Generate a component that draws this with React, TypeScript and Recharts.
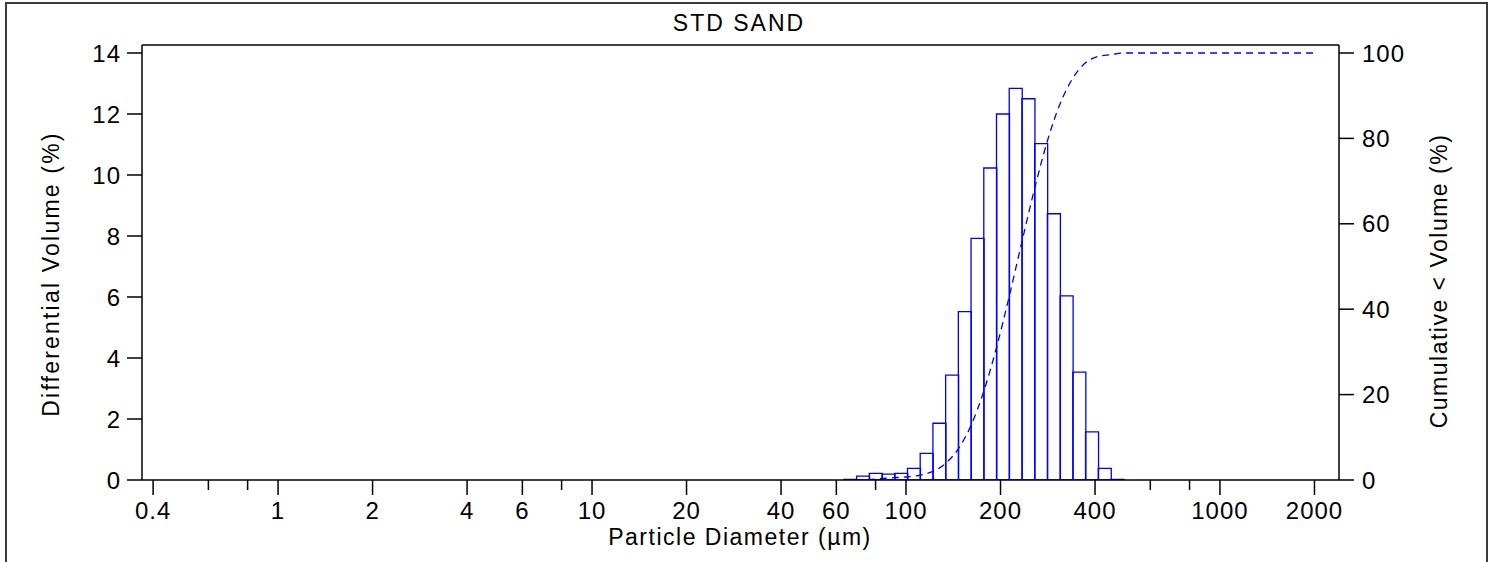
import React from 'react';
import { ComposedChart, Bar, Line, XAxis, YAxis, ReferenceLine, Customized } from 'recharts';

// Differential volume histogram: geometric bin centres (µm) and values (%)
const binCenters = [66.44, 72.93, 80.06, 87.88, 96.48, 105.91, 116.27, 127.64, 140.11, 153.81, 168.84, 185.36, 203.47, 223.37, 245.21, 269.19, 295.5, 324.39, 356.11, 390.92, 429.14, 471.11];
const diffVolume = [0.02, 0.13, 0.22, 0.19, 0.22, 0.38, 0.87, 1.86, 3.44, 5.52, 7.92, 10.23, 12.0, 12.84, 12.5, 11.03, 8.73, 6.04, 3.54, 1.58, 0.38, 0.02];

// Cumulative < volume curve: bin upper edges (µm) and values (%)
const cumDiameters = [63.41, 69.61, 76.41, 83.88, 92.08, 101.08, 110.97, 121.82, 133.73, 146.8, 161.15, 176.91, 194.2, 213.19, 234.04, 256.92, 282.04, 309.61, 339.88, 373.11, 409.59, 449.64, 493.59, 2000];
const cumVolume = [0, 0, 0.13, 0.35, 0.54, 0.76, 1.14, 2.0, 3.9, 7.3, 12.8, 20.8, 31.0, 43.0, 55.8, 68.3, 79.4, 88.1, 94.1, 97.7, 99.2, 99.6, 100, 100];

// Axis ticks
const xTicks = [0.4, 0.6, 0.8, 1, 2, 4, 6, 8, 10, 20, 40, 60, 80, 100, 200, 400, 600, 800, 1000, 2000];
const xTickLabels = ['0.4', '', '', '1', '2', '4', '6', '', '10', '20', '40', '60', '', '100', '200', '400', '', '', '1000', '2000'];
const leftTicks = [0, 2, 4, 6, 8, 10, 12, 14];
const rightTicks = [0, 20, 40, 60, 80, 100];

const X_MIN = 0.3687;
const X_MAX = 2394;
const Y_L_MAX = 14.262;
const Y_R_MAX = 101.87;

const binData = binCenters.map((d, i) => ({ d, v: diffVolume[i] }));
const cumData = cumDiameters.map((d, i) => ({ d, c: cumVolume[i] }));

const FONT = '"Liberation Sans", Arial, Helvetica, sans-serif';
const BLUE = '#0000ff';

const renderXTick = (props: any) => {
  const { x, y, payload } = props;
  const idx = xTicks.findIndex((t) => Math.abs(t - payload.value) < 1e-9);
  const label = idx >= 0 ? xTickLabels[idx] : '';
  const major = label !== '';
  return (
    <g>
      <line x1={x} x2={x} y1={y} y2={y + (major ? 15 : 10)} stroke="#000" strokeWidth={1.5} />
      {major && (
        <text x={x} y={y + 39} textAnchor="middle" fontSize={24} fontFamily={FONT} letterSpacing={1} fill="#000">
          {label}
        </text>
      )}
    </g>
  );
};

const Texts = () => (
  <g fontFamily={FONT} fill="#000">
    <text x={739} y={31} textAnchor="middle" fontSize={23} letterSpacing={2}>STD SAND</text>
    <text x={740} y={545} textAnchor="middle" fontSize={23} letterSpacing={1.5}>Particle Diameter (µm)</text>
    <text x={59} y={274} textAnchor="middle" fontSize={23} letterSpacing={2.2} transform="rotate(-90 59 274)">
      Differential Volume (%)
    </text>
    <text x={1447} y={281} textAnchor="middle" fontSize={23} letterSpacing={1.5} transform="rotate(-90 1447 281)">
      Cumulative &lt; Volume (%)
    </text>
  </g>
);

const tickStyle = { fontSize: 24, fill: '#000', fontFamily: FONT, letterSpacing: 1 };
const axisStroke = { stroke: '#000', strokeWidth: 1.5 };

export default function App() {
  return (
    <div style={{ position: 'absolute', left: 0, top: 0, width: 1490, height: 562, overflow: 'hidden', background: '#fff' }}>
      <div
        style={{
          position: 'absolute',
          left: 5,
          top: 2,
          width: 1479,
          height: 600,
          border: '2px solid #3a3a3a',
          borderBottom: 'none',
          boxSizing: 'content-box',
        }}
      />
      <div style={{ position: 'absolute', left: 0, top: 0 }}>
        <ComposedChart
          width={1490}
          height={562}
          data={binData}
          margin={{ top: 45, right: 0, bottom: 0, left: 0 }}
          barCategoryGap={0}
          barGap={0}
        >
          <XAxis
            xAxisId="main"
            dataKey="d"
            type="number"
            scale="log"
            domain={[X_MIN, X_MAX]}
            allowDataOverflow
            ticks={xTicks}
            interval={0}
            height={82}
            tickSize={0}
            tickMargin={0}
            tickLine={false}
            tick={renderXTick}
            axisLine={axisStroke}
          />
          <XAxis
            xAxisId="cum"
            dataKey="d"
            type="number"
            scale="log"
            orientation="top"
            height={0}
            domain={[X_MIN, X_MAX]}
            allowDataOverflow
            hide
          />
          <YAxis
            yAxisId="left"
            orientation="left"
            type="number"
            width={142}
            domain={[0, Y_L_MAX]}
            allowDataOverflow
            ticks={leftTicks}
            interval={0}
            tickSize={15}
            tickMargin={6}
            tick={tickStyle}
            axisLine={axisStroke}
            tickLine={axisStroke}
          />
          <YAxis
            yAxisId="right"
            orientation="right"
            type="number"
            width={151}
            domain={[0, Y_R_MAX]}
            allowDataOverflow
            ticks={rightTicks}
            interval={0}
            tickSize={15}
            tickMargin={8}
            tick={{ ...tickStyle, textAnchor: 'start' }}
            axisLine={axisStroke}
            tickLine={axisStroke}
          />
          <ReferenceLine xAxisId="main" yAxisId="left" y={Y_L_MAX} stroke="#000" strokeWidth={1.5} />
          <Bar
            xAxisId="main"
            yAxisId="left"
            dataKey="v"
            fill="none"
            stroke={BLUE}
            strokeWidth={1.3}
            isAnimationActive={false}
          />
          <Line
            xAxisId="cum"
            yAxisId="right"
            data={cumData}
            dataKey="c"
            type="monotone"
            stroke={BLUE}
            strokeWidth={1.3}
            strokeDasharray="7 5"
            dot={false}
            isAnimationActive={false}
          />
          <Customized component={Texts} />
        </ComposedChart>
      </div>
    </div>
  );
}
